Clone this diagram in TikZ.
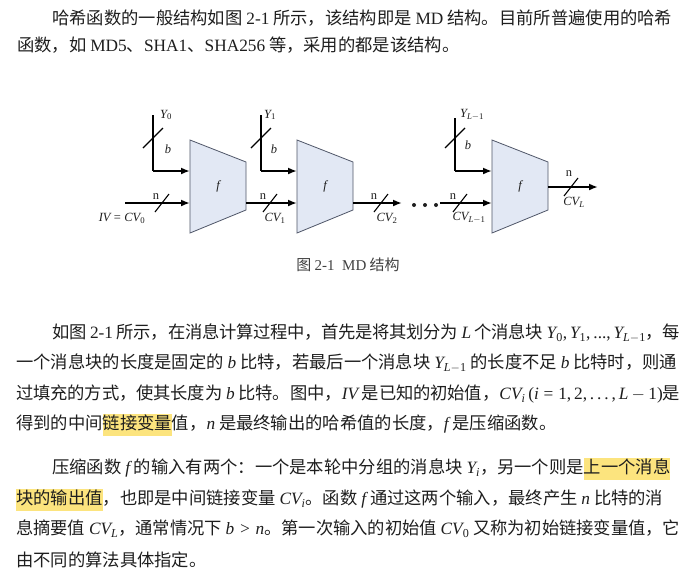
\documentclass[tikz,border=0pt]{standalone}
\usepackage{amsmath}
\usepackage[no-math]{fontspec}
\setmainfont{Noto Sans CJK SC}
\newfontfamily\latinrm[NFSSFamily=libser]{Liberation Serif}
\usetikzlibrary{arrows.meta}

% Times-like math letters and digits
\DeclareSymbolFont{operators}{TU}{libser}{m}{n}
\DeclareSymbolFont{letters}{TU}{libser}{m}{it}
\DeclareMathSymbol{,}{\mathpunct}{operators}{"2C}
\DeclareMathSymbol{\ldotp}{\mathpunct}{operators}{"2E}
\DeclareMathSymbol{\pdot}{\mathord}{operators}{"2E}

\XeTeXlinebreaklocale "zh"
\XeTeXlinebreakskip=0pt plus 1.5pt minus 1pt
\setlength{\parindent}{0pt}

\definecolor{blockfill}{HTML}{E2E8F4}
\definecolor{blockline}{HTML}{4F5668}
\definecolor{hlyellow}{HTML}{FCE47E}
\definecolor{inktext}{HTML}{1E1E1E}

\newcommand{\rmen}[1]{{\latinrm #1}}
\newcommand{\hlt}[1]{{\setlength{\fboxsep}{0pt}\colorbox{hlyellow}{\strut #1}}}
\newcommand{\bodyfont}{\fontsize{17.3}{22}\selectfont}
\newcommand{\fillline}{\parfillskip=0pt\relax}

\begin{document}
\begin{tikzpicture}[x=1pt, y=-1pt,
    txt/.style={anchor=base west, inner sep=0pt, text=inktext, font=\bodyfont},
    jline/.style={txt, align=justify, text width=#1},
    comp/.style={fill=blockfill, draw=blockline, line width=0.8pt},
    bus/.style={line width=2.2pt, -{Latex[length=9pt,width=7pt]}},
    feed/.style={line width=1.3pt},
    tick/.style={line width=1.1pt},
    lbl/.style={inner sep=0pt, text=inktext, font=\fontsize{12.5}{14}\selectfont}]

      % Page size
      \fill[white] (0,0) rectangle (693,587);
      \useasboundingbox (0,0) rectangle (693,587);

      % First paragraph
      \node[jline=626pt] (p1a) at (52,24.6) {\fillline 哈希函数的一般结构如图 \rmen{2-1} 所示，该结构即是 \rmen{MD} 结构。目前所普遍使用的哈希};
      \node[txt] (p1b) at (17,51.5) {函数，如 \rmen{MD5}、\rmen{SHA1}、\rmen{SHA256} 等，采用的都是该结构。};

      % Compression blocks f
      \foreach \x [count=\i] in {190,297,492} {
        \draw[comp] (\x,140) -- (\x+56,162) -- (\x+56,210) -- (\x,233) -- cycle;
        \node[lbl] (f\i) at (\x+28,186) {$f$};
        \coordinate (up\i) at (\x,171); % message input
        \coordinate (lo\i) at (\x,203); % chaining input
      }

      % Message blocks Y
      \foreach \x/\top/\i in {153/115/1, 261/115/2, 455/118/3} {
        \coordinate (ytop\i) at (\x,\top);
        \coordinate (ybend\i) at (\x,171);
        \draw[feed] (ytop\i) -- (ybend\i);
        \draw[bus] (ybend\i) -- (up\i);
        \draw[tick] (\x-10,148) -- (\x+10,128);
      }
      \node[lbl] (y0) at (166,115) {$Y_0$};
      \node[lbl] (y1) at (270,115) {$Y_1$};
      \node[lbl] (yl) at (472,115) {$Y_{L-1}$};
      \node[lbl] (b0) at (168,149) {$b$};
      \node[lbl] (b1) at (274,149) {$b$};
      \node[lbl] (bl) at (468,145) {$b$};

      % Chaining variables
      \coordinate (iv) at (125,203);
      \coordinate (r1) at (246,203);
      \coordinate (r2) at (353,203);
      \coordinate (d1) at (402,203);
      \coordinate (d2) at (440,203);
      \coordinate (r3) at (548,187);
      \coordinate (out) at (598,187);
      \draw[bus] (iv) -- (lo1);
      \draw[bus] (r1) -- (lo2);
      \draw[bus] (r2) -- (d1);
      \draw[bus] (d2) -- (lo3);
      \draw[bus] (r3) -- (out);
      \foreach \x in {414,425,436}
        \fill[inktext] (\x,205) circle (2pt);

      % Width marks n
      \foreach \x/\y in {162/203, 270/203, 381/203, 460/203, 571/187}
        \draw[tick] (\x-7,\y+9) -- (\x+7,\y-9);
      \foreach \x/\y/\i in {156/197/1, 263/197/2, 374/197/3, 453/197/4, 569/174/5}
        \node[lbl] (n\i) at (\x,\y) {\rmen{n}};

      \node[lbl] (cv0) at (122,218) {$IV=CV_0$};
      \node[lbl] (cv1) at (275,218) {$CV_1$};
      \node[lbl] (cv2) at (387,218) {$CV_2$};
      \node[lbl] (cvm) at (469,218) {$CV_{L-1}$};
      \node[lbl] (cvl) at (574,202) {$CV_L$};

      % Caption
      \node[text=inktext!85, font=\fontsize{15}{17}\selectfont] (cap) at (348,265) {图 \rmen{2-1}\enspace\rmen{MD} 结构};

      % Second paragraph
      \node[jline=628pt] (p2a) at (52,338.6) {\fillline 如图 \rmen{2-1} 所示，在消息计算过程中，首先是将其划分为 $L$ 个消息块 $Y_0,Y_1,\pdot\pdot\pdot,Y_{L-1}$，每};
      \node[jline=664pt] (p2b) at (16,368.6) {\fillline 一个消息块的长度是固定的 $b$ 比特，若最后一个消息块 $Y_{L-1}$ 的长度不足 $b$ 比特时，则通};
      \node[jline=664pt] (p2c) at (16,399.6) {\fillline 过填充的方式，使其长度为 $b$ 比特。图中，$IV$ 是已知的初始值，$CV_i\,(i=1,2,\dots,L-1)$是};
      \node[txt] (p2d) at (16,429.6) {得到的中间\hlt{链接变量}值，$n$ 是最终输出的哈希值的长度，$f$ 是压缩函数。};

      % Third paragraph
      \node[jline=628pt] (p3a) at (52,473.6) {\fillline 压缩函数 $f$ 的输入有两个：一个是本轮中分组的消息块 $Y_i$，另一个则是\hlt{上一个消息}};
      \node[jline=664pt] (p3b) at (16,504.6) {\fillline \hlt{块的输出值}，也即是中间链接变量 $CV_i$。函数 $f$ 通过这两个输入，最终产生 $n$ 比特的消};
      \node[jline=664pt] (p3c) at (16,534.6) {\fillline 息摘要值 $CV_L$，通常情况下 $b>n$。第一次输入的初始值 $CV_0$ 又称为初始链接变量值，它};
      \node[txt] (p3d) at (16,566.6) {由不同的算法具体指定。};

  \end{tikzpicture}
\end{document}
